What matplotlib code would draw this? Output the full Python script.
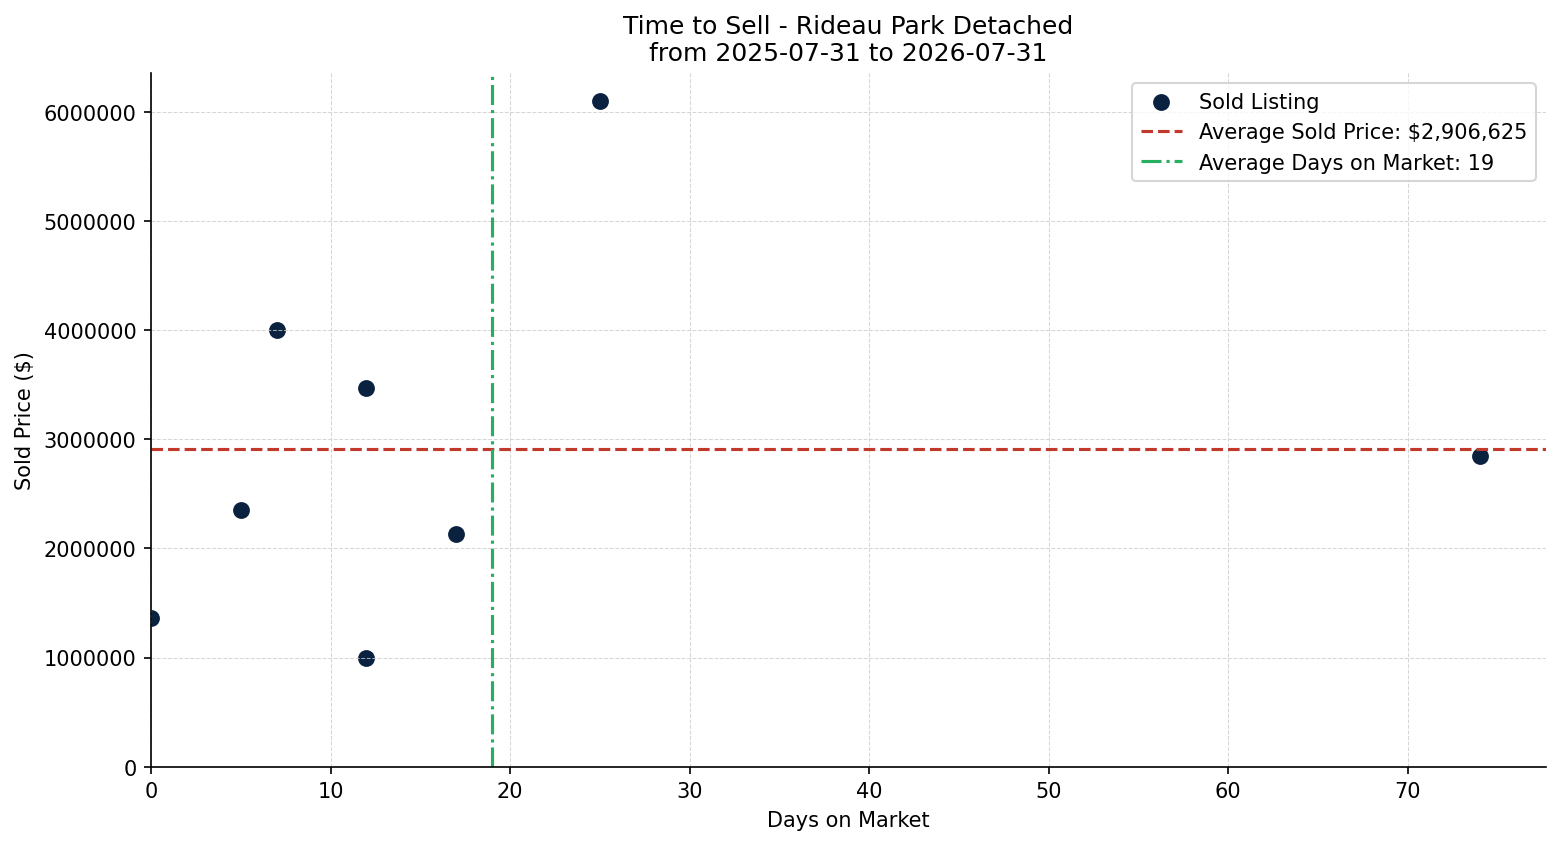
import matplotlib
matplotlib.use("Agg")
import matplotlib.pyplot as plt

days = [0, 5, 7, 12, 12, 17, 25, 74]
prices = [1358000, 2350000, 3999000, 3468000, 999000, 2129000, 6100000, 2850000]

avg_price = sum(prices) / len(prices)
avg_days = sum(days) / len(days)

fig, ax = plt.subplots(figsize=(10.4, 5.633), dpi=150)
fig.subplots_adjust(left=0.0968, right=0.991, top=0.9125, bottom=0.0915)

ax.scatter(days, prices, s=50, color='#0a2140', label='Sold Listing')
ax.axhline(avg_price, color='#c0392b', linestyle='--', linewidth=1.5,
           label='Average Sold Price: ${:,.0f}'.format(avg_price))
ax.axvline(avg_days, color='#27ae60', linestyle='-.', linewidth=1.5,
           label='Average Days on Market: {:.0f}'.format(avg_days))

ax.set_xlim(left=0)
ax.set_ylim(bottom=0)
ax.ticklabel_format(style='plain', axis='y')

ax.set_title('Time to Sell - Rideau Park Detached\nfrom 2025-07-31 to 2026-07-31', fontsize=12)
ax.set_xlabel('Days on Market')
ax.set_ylabel('Sold Price ($)')
ax.grid(True, linestyle='--', linewidth=0.5, color='#cccccc', alpha=0.8)
ax.spines['top'].set_visible(False)
ax.spines['right'].set_visible(False)
ax.legend(loc='upper right')

fig.savefig('out.png', dpi=150)
